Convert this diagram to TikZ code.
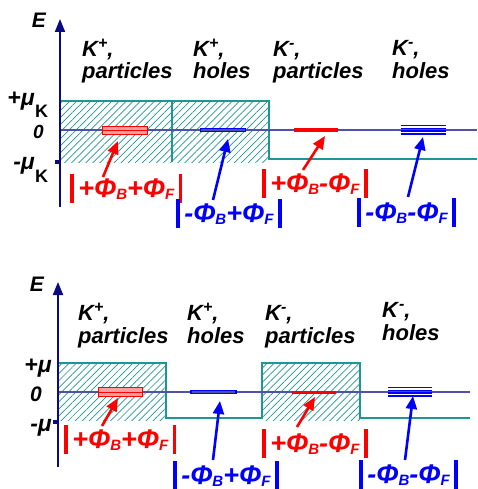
\documentclass[tikz,border=0pt]{standalone}
\usepackage{fontspec}
\setmainfont{Liberation Sans}
\usetikzlibrary{arrows.meta,patterns.meta}
\definecolor{tealc}{RGB}{30,150,150}
\definecolor{zeroc}{RGB}{80,80,170}
\definecolor{axisc}{RGB}{10,10,130}
\definecolor{redc}{RGB}{255,0,0}
\definecolor{bluec}{RGB}{0,0,255}
\definecolor{pinkc}{RGB}{255,160,160}
\newcommand{\vb}{\rule[-6pt]{3.6pt}{29pt}}
\newcommand{\sbs}[1]{\raisebox{-2.5pt}{\fontsize{15}{15}\selectfont #1}}
\newcommand{\phlab}[2]{\vb\,#1Φ\sbs{B}#2Φ\sbs{F}\,\vb}
\newcommand{\Klab}[1]{K\raisebox{8pt}{\fontsize{16}{16}\selectfont #1},}
\begin{document}
\begin{tikzpicture}[x=1pt,y=-1pt,
  lab/.style={font=\fontsize{22}{22}\selectfont\bfseries\itshape, inner sep=0pt, anchor=base west},
  axlab/.style={font=\fontsize{23}{23}\selectfont\bfseries\itshape, inner sep=0pt, anchor=base east},
  zlab/.style={font=\fontsize{19}{19}\selectfont\bfseries\itshape, inner sep=0pt, anchor=base east},
  sublab/.style={font=\fontsize{18}{18}\selectfont\bfseries, inner sep=0pt, anchor=base west},
  phl/.style={font=\fontsize{27}{27}\selectfont\bfseries\itshape, inner sep=0pt, anchor=base west},
  axis/.style={draw=axisc, line width=2pt, -{Triangle[length=13pt,width=10pt]}},
  hatch/.style={pattern={Lines[angle=45,distance=5pt,line width=0.7pt]}, pattern color=tealc},
  outl/.style={draw=tealc, line width=1.2pt},
  zline/.style={draw=zeroc, line width=1.1pt},
  arr/.style={line width=2.6pt, -{Triangle[length=13pt,width=11pt]}},
  tick/.style={fill=axisc},
]
\useasboundingbox (0,0) rectangle (477,489);

% ================= TOP PANEL =================
\fill[hatch] (60,101) rectangle (269,162);
\draw[outl] (60,101) -- (269,101) -- (269,159) -- (477,159);
\draw[outl] (172,101) -- (172,162);
\draw[zline] (60,130) -- (477,130);
\coordinate (ta0) at (60,207);
\coordinate (ta1) at (60,19);
\draw[axis] (ta0) -- (ta1);
\fill[tick] (55,160) rectangle (60,164);
\node[font=\fontsize{21}{21}\selectfont\bfseries\itshape, inner sep=0pt] (tE) at (39,20) {E};
\node[axlab] (tmu1) at (35,106) {+μ};
\node[sublab] (tk1) at (35,117.5) {K};
\node[zlab] (tz) at (44,138.5) {0};
\node[axlab] (tmu2) at (35,169) {-μ};
\node[sublab] (tk2) at (35,182) {K};

\node[lab] (t1a) at (82,57) {\Klab{+}};
\node[lab] (t1b) at (82,79) {particles};
\node[lab] (t2a) at (193,57) {\Klab{+}};
\node[lab] (t2b) at (193,79) {holes};
\node[lab] (t3a) at (273,57) {\Klab{-}};
\node[lab] (t3b) at (273,79) {particles};
\node[lab] (t4a) at (392,56) {\Klab{-}};
\node[lab] (t4b) at (392,79) {holes};

% levels
\filldraw[fill=pinkc, draw=redc, line width=1pt] (102,126.5) rectangle (147,134.5);
\draw[redc, line width=1pt] (102,130.5) -- (147,130.5);
\draw[bluec, line width=1pt] (200,129) rectangle (245,132);
\draw[redc, line width=3.5pt] (294,130) -- (338,130);
\foreach \yy in {125.5,128.3,131.1,133.9} \draw[bluec, line width=1.3pt] (401,\yy) -- (446,\yy);

% labels
\node[phl, text=redc] (tl1) at (70,197) {\phlab{+}{+}};
\node[phl, text=bluec] (tl2) at (176,222) {\phlab{-}{+}};
\node[phl, text=redc] (tl3) at (262,192) {\phlab{+}{-}};
\node[phl, text=bluec] (tl4) at (357,221) {\phlab{-}{-}};

\coordinate (tr1s) at (103,177); \coordinate (tr1e) at (118,141);
\coordinate (tb1s) at (213,200); \coordinate (tb1e) at (228,139);
\coordinate (tr2s) at (303,170); \coordinate (tr2e) at (325,136);
\coordinate (tb2s) at (408,197); \coordinate (tb2e) at (423,137);
\draw[arr, redc] (tr1s) -- (tr1e);
\draw[arr, bluec] (tb1s) -- (tb1e);
\draw[arr, redc] (tr2s) -- (tr2e);
\draw[arr, bluec] (tb2s) -- (tb2e);

% ================= BOTTOM PANEL =================
\fill[hatch] (58,363) rectangle (166,420);
\fill[hatch] (262,363) rectangle (360,420);
\draw[outl] (58,363) -- (166,363) -- (166,418) -- (262,418) -- (262,363) -- (360,363) -- (360,418) -- (470,418);
\draw[zline] (58,392) -- (470,392);
\coordinate (ba0) at (58,467);
\coordinate (ba1) at (58,282);
\draw[axis] (ba0) -- (ba1);
\fill[tick] (53,420) rectangle (58,424);
\node[font=\fontsize{21}{21}\selectfont\bfseries\itshape, inner sep=0pt] (bE) at (37,284) {E};
\node[axlab] (bmu1) at (52,372) {+μ};
\node[zlab, font=\fontsize{21}{21}\selectfont\bfseries\itshape] (bz) at (42,401) {0};
\node[axlab] (bmu2) at (52,431) {-μ};

\node[lab] (b1a) at (78,320) {\Klab{+}};
\node[lab] (b1b) at (78,343) {particles};
\node[lab] (b2a) at (187,320) {\Klab{+}};
\node[lab] (b2b) at (187,343) {holes};
\node[lab] (b3a) at (265,320) {\Klab{-}};
\node[lab] (b3b) at (265,343) {particles};
\node[lab] (b4a) at (382,317) {K\hspace{1pt}\raisebox{8pt}{\fontsize{16}{16}\selectfont -},};
\node[lab] (b4b) at (382,340) {holes};

\filldraw[fill=pinkc, draw=redc, line width=1pt] (98,387.5) rectangle (142,396.5);
\draw[redc, line width=1pt] (98,392) -- (142,392);
\draw[bluec, line width=1.2pt] (191,390.5) rectangle (236,393.5);
\draw[redc, line width=3pt] (292,392) -- (336,392);
\foreach \yy in {387.5,390.3,393.1,395.9} \draw[bluec, line width=1.3pt] (388,\yy) -- (432,\yy);

\node[phl, text=redc] (bl1) at (64,448) {\phlab{+}{+}};
\node[phl, text=bluec] (bl2) at (173,484) {\phlab{-}{+}};
\node[phl, text=redc] (bl3) at (262,452) {\phlab{+}{-}};
\node[phl, text=bluec] (bl4) at (359,483) {\phlab{-}{-}};

\coordinate (br1s) at (102,426); \coordinate (br1e) at (118,398);
\coordinate (bb1s) at (213,460); \coordinate (bb1e) at (220,401);
\coordinate (br2s) at (297,427); \coordinate (br2e) at (315,397);
\coordinate (bb2s) at (405,460); \coordinate (bb2e) at (413,396);
\draw[arr, redc] (br1s) -- (br1e);
\draw[arr, bluec] (bb1s) -- (bb1e);
\draw[arr, redc] (br2s) -- (br2e);
\draw[arr, bluec] (bb2s) -- (bb2e);
\end{tikzpicture}
\end{document}
